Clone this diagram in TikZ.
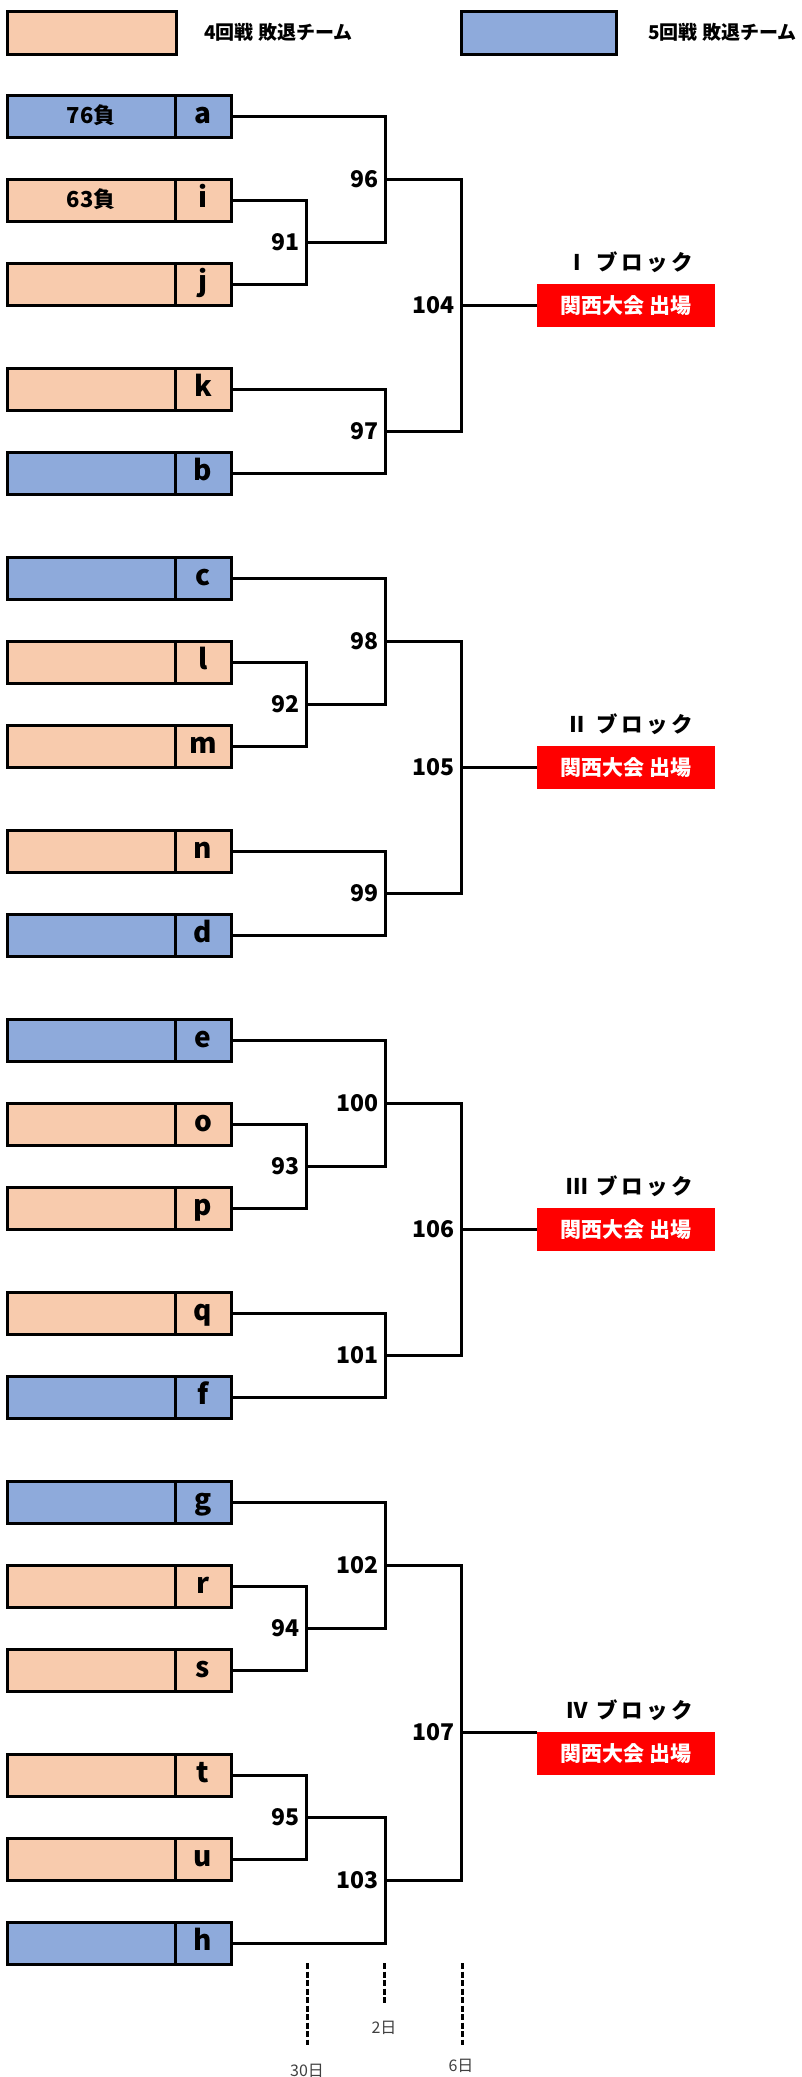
\documentclass[tikz,border=0pt]{standalone}
\usepackage{fontspec}
\setmainfont{Noto Sans CJK JP}
\newfontfamily\spacedjp[LetterSpace=16]{Noto Sans CJK JP}
\usepackage{tikz}
\definecolor{loss4}{HTML}{F8CBAD}
\definecolor{loss5}{HTML}{8EAADB}
\definecolor{daygray}{HTML}{404040}
\pgfdeclarelayer{bg}
\pgfsetlayers{bg,main}
\tikzset{
  cell/.style={draw, line width=3pt, minimum height=42pt, inner sep=0pt,
    text height=20pt, text depth=6pt},
  namecell/.style={cell, minimum width=168pt, font=\bfseries\fontsize{22}{22}\selectfont},
  tagcell/.style={cell, minimum width=56pt, font=\bfseries\fontsize{28}{28}\selectfont},
  r4/.style={fill=loss4},
  r5/.style={fill=loss5},
  wire/.style={line width=3pt},
  matchno/.style={anchor=east, inner sep=0pt, xshift=-6pt,
    font=\bfseries\fontsize{23}{23}\selectfont},
  blocktitle/.style={font=\spacedjp\bfseries\fontsize{21.5}{21.5}\selectfont},
  kansai/.style={fill=red, text=white, minimum width=178pt, minimum height=43pt,
    inner sep=0pt, font=\bfseries\fontsize{21}{21}\selectfont},
  keytext/.style={anchor=west, inner sep=0pt, font=\bfseries\fontsize{19}{19}\selectfont},
  dayline/.style={line width=3pt, dash pattern=on 6pt off 2.5pt},
  daytext/.style={text=daygray, inner sep=0pt, font=\fontsize{16}{16}\selectfont}
}
\begin{document}
\begin{tikzpicture}[x=1pt, y=-1pt]
        \useasboundingbox (0,0) rectangle (802,2077);
        % legend
        \node (key4) [cell, r4, minimum width=169pt, minimum height=43pt] at (91.5,32.5) {};
        \node (key4t) [keytext] at (204,32) {4回戦 敗退チーム};
        \node (key5) [cell, r5, minimum width=155pt, minimum height=43pt] at (538.5,32.5) {};
        \node (key5t) [keytext] at (648,32) {5回戦 敗退チーム};
        % block I
        \node (na) [namecell, r5] at (91,116) {76負};
        \node (ta) [tagcell, r5] at (203,116) {a};
        \node (ni) [namecell, r4] at (91,200) {63負};
        \node (ti) [tagcell, r4] at (203,200) {i};
        \node (nj) [namecell, r4] at (91,284) {};
        \node (tj) [tagcell, r4] at (203,284) {j};
        \node (nk) [namecell, r4] at (91,389) {};
        \node (tk) [tagcell, r4] at (203,389) {k};
        \node (nb) [namecell, r5] at (91,473) {};
        \node (tb) [tagcell, r5] at (203,473) {b};
        % block II
        \node (nc) [namecell, r5] at (91,578) {};
        \node (tc) [tagcell, r5] at (203,578) {c};
        \node (nl) [namecell, r4] at (91,662) {};
        \node (tl) [tagcell, r4] at (203,662) {l};
        \node (nm) [namecell, r4] at (91,746) {};
        \node (tm) [tagcell, r4] at (203,746) {m};
        \node (nn) [namecell, r4] at (91,851) {};
        \node (tn) [tagcell, r4] at (203,851) {n};
        \node (nd) [namecell, r5] at (91,935) {};
        \node (td) [tagcell, r5] at (203,935) {d};
        % block III
        \node (ne) [namecell, r5] at (91,1040) {};
        \node (te) [tagcell, r5] at (203,1040) {e};
        \node (no) [namecell, r4] at (91,1124) {};
        \node (to) [tagcell, r4] at (203,1124) {o};
        \node (np) [namecell, r4] at (91,1208) {};
        \node (tp) [tagcell, r4] at (203,1208) {p};
        \node (nq) [namecell, r4] at (91,1313) {};
        \node (tq) [tagcell, r4] at (203,1313) {q};
        \node (nf) [namecell, r5] at (91,1397) {};
        \node (tf) [tagcell, r5] at (203,1397) {f};
        % block IV
        \node (ng) [namecell, r5] at (91,1502) {};
        \node (tg) [tagcell, r5] at (203,1502) {g};
        \node (nr) [namecell, r4] at (91,1586) {};
        \node (tr) [tagcell, r4] at (203,1586) {r};
        \node (ns) [namecell, r4] at (91,1670) {};
        \node (ts) [tagcell, r4] at (203,1670) {s};
        \node (nt) [namecell, r4] at (91,1775) {};
        \node (tt) [tagcell, r4] at (203,1775) {t};
        \node (nu) [namecell, r4] at (91,1859) {};
        \node (tu) [tagcell, r4] at (203,1859) {u};
        \node (nh) [namecell, r5] at (91,1943) {};
        \node (th) [tagcell, r5] at (203,1943) {h};
        % match points
        \coordinate (m91) at (306,242);
        \coordinate (m96) at (385,179);
        \coordinate (m97) at (385,431);
        \coordinate (m104) at (461,305);
        \coordinate (m92) at (306,704);
        \coordinate (m98) at (385,641);
        \coordinate (m99) at (385,893);
        \coordinate (m105) at (461,767);
        \coordinate (m93) at (306,1166);
        \coordinate (m100) at (385,1103);
        \coordinate (m101) at (385,1355);
        \coordinate (m106) at (461,1229);
        \coordinate (m94) at (306,1628);
        \coordinate (m102) at (385,1565);
        \coordinate (m95) at (306,1817);
        \coordinate (m103) at (385,1880);
        \coordinate (m107) at (461,1732);
        % winners
        \node (w1) [blocktitle] at (630,262) {Ⅰ ブロック};
        \node (k1) [kansai] at (626,305.5) {関西大会 出場};
        \node (w2) [blocktitle] at (630,724) {Ⅱ ブロック};
        \node (k2) [kansai] at (626,767.5) {関西大会 出場};
        \node (w3) [blocktitle] at (630,1186) {Ⅲ ブロック};
        \node (k3) [kansai] at (626,1229.5) {関西大会 出場};
        \node (w4) [blocktitle] at (630,1710) {Ⅳ ブロック};
        \node (k4) [kansai] at (626,1753.5) {関西大会 出場};
        % match numbers
        \node (l91) [matchno] at (m91) {91};
        \node (l96) [matchno] at (m96) {96};
        \node (l97) [matchno] at (m97) {97};
        \node (l104) [matchno] at (m104) {104};
        \node (l92) [matchno] at (m92) {92};
        \node (l98) [matchno] at (m98) {98};
        \node (l99) [matchno] at (m99) {99};
        \node (l105) [matchno] at (m105) {105};
        \node (l93) [matchno] at (m93) {93};
        \node (l100) [matchno] at (m100) {100};
        \node (l101) [matchno] at (m101) {101};
        \node (l106) [matchno] at (m106) {106};
        \node (l94) [matchno] at (m94) {94};
        \node (l102) [matchno] at (m102) {102};
        \node (l95) [matchno] at (m95) {95};
        \node (l103) [matchno] at (m103) {103};
        \node (l107) [matchno] at (m107) {107};
        % days
        \coordinate (d30a) at (307,1963);
        \coordinate (d30b) at (307,2045);
        \coordinate (d2a) at (384,1963);
        \coordinate (d2b) at (384,2005);
        \coordinate (d6a) at (462,1963);
        \coordinate (d6b) at (462,2045);
        \node (day30) [daytext] at (307,2071) {30日};
        \node (day2) [daytext] at (384,2028) {2日};
        \node (day6) [daytext] at (461,2066) {6日};
        \begin{pgfonlayer}{bg}
                \draw[wire] (ti.east) -| (m91) |- (tj.east);
                \draw[wire] (ta.east) -| (m96) |- (m91);
                \draw[wire] (tk.east) -| (m97) |- (tb.east);
                \draw[wire] (m96) -| (m104) |- (m97);
                \draw[wire] (m104) -- (m104 -| k1.west);
                \draw[wire] (tl.east) -| (m92) |- (tm.east);
                \draw[wire] (tc.east) -| (m98) |- (m92);
                \draw[wire] (tn.east) -| (m99) |- (td.east);
                \draw[wire] (m98) -| (m105) |- (m99);
                \draw[wire] (m105) -- (m105 -| k2.west);
                \draw[wire] (to.east) -| (m93) |- (tp.east);
                \draw[wire] (te.east) -| (m100) |- (m93);
                \draw[wire] (tq.east) -| (m101) |- (tf.east);
                \draw[wire] (m100) -| (m106) |- (m101);
                \draw[wire] (m106) -- (m106 -| k3.west);
                \draw[wire] (tr.east) -| (m94) |- (ts.east);
                \draw[wire] (tg.east) -| (m102) |- (m94);
                \draw[wire] (tt.east) -| (m95) |- (tu.east);
                \draw[wire] (m95) -| (m103) |- (th.east);
                \draw[wire] (m102) -| (m107) |- (m103);
                \draw[wire] (m107) -- (m107 -| k4.west);
                \draw[dayline] (d30a) -- (d30b);
                \draw[dayline] (d2a) -- (d2b);
                \draw[dayline] (d6a) -- (d6b);
        \end{pgfonlayer}
\end{tikzpicture}
\end{document}
